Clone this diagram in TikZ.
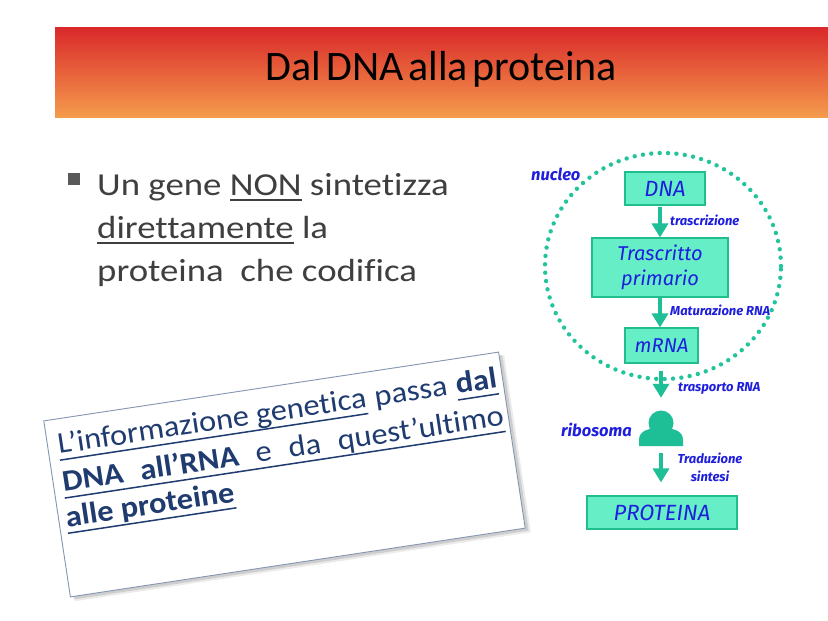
\documentclass[tikz,border=0pt]{standalone}
\usepackage{fontspec}
\setmainfont[Ligatures=NoCommon]{Carlito}
\newfontfamily\titlefont[WordSpace=0.5,Ligatures=NoCommon]{Carlito}
\newfontfamily\bulletfont[FakeStretch=1.15,Ligatures=NoCommon]{Carlito}
\newfontfamily\boxfont[FakeStretch=1.08,Ligatures=NoCommon]{Carlito}
\newfontfamily\diagfont{Fira Sans}
\usetikzlibrary{arrows.meta}
\newdimen\myuldp \myuldp=4pt
\newdimen\myulth \myulth=1.6pt
\newcommand{\myul}[1]{\leavevmode\setbox0=\hbox{#1}\rlap{\vrule height -\myuldp depth \dimexpr\myuldp+\myulth\relax width \wd0\relax}\box0\relax}
\newcommand{\ulsp}{\leaders\vrule height -\myuldp depth \dimexpr\myuldp+\myulth\relax\hskip 0.23em plus 1fill\relax}
\newcommand{\plsp}{\hskip 0.23em plus 1fill\relax}
\definecolor{bannertop}{HTML}{D9282A}
\definecolor{bannermid}{HTML}{E9683A}
\definecolor{bannerbot}{HTML}{F59B4C}
\definecolor{bullettext}{HTML}{3F3F3F}
\definecolor{bulletsq}{HTML}{595959}
\definecolor{navy}{HTML}{1F3B70}
\definecolor{boxedge}{HTML}{8496B0}
\definecolor{boxfill}{HTML}{66EEC6}
\definecolor{boxborder}{HTML}{20BE8E}
\definecolor{arrcol}{HTML}{1EBE96}
\definecolor{dotcol}{HTML}{22C49C}
\definecolor{dblue}{HTML}{1E1EDC}
\tikzset{
  dbox/.style={draw=boxborder, fill=boxfill, line width=1.2pt, text=dblue, inner sep=0pt,
    font=\diagfont\itshape\fontsize{20}{25}\selectfont},
  capsbox/.style={dbox, font=\diagfont\itshape\fontsize{22}{25}\selectfont},
  arr/.style={draw=arrcol, line width=4pt, -{Triangle[width=16pt,length=14pt]}},
  lab/.style={text=dblue, inner sep=0pt, font=\diagfont\bfseries\itshape\fontsize{13}{18}\selectfont},
  biglab/.style={text=dblue, inner sep=0pt, font=\diagfont\bfseries\itshape\fontsize{16.5}{18}\selectfont},
  bline/.style={anchor=base west, inner sep=0pt, text=bullettext, font=\bulletfont\fontsize{32}{37}\selectfont},
  tline/.style={anchor=base west, inner sep=0pt, text=navy, transform shape, font=\boxfont\fontsize{30}{34}\selectfont}
}
\begin{document}
\begin{tikzpicture}[x=1pt,y=-1pt]
\useasboundingbox (0,0) rectangle (828,621);
\fill[white] (0,0) rectangle (828,621);
% banner
\shade[top color=bannertop, middle color=bannermid, bottom color=bannerbot] (55,27) rectangle (828,117);
\node[anchor=base, inner sep=0pt, font=\titlefont\fontsize{42}{48}\selectfont] (title) at (441.5,80) {Dal DNA alla proteina};
% bullet
\node[fill=bulletsq, minimum size=12pt, inner sep=0pt] (bul) at (74,179) {};
\node[bline] (b1) at (97,195) {Un gene \myul{NON} sintetizza};
\node[bline] (b2) at (97,238) {\myul{direttamente} la};
\node[bline] (b3) at (97,281) {proteina\ \ che codifica};
% rotated box
\begin{scope}[shift={(284.5,474.5)}, rotate=8.6]
  \fill[black, opacity=0.08] (-226,-85) rectangle (235,94);
  \fill[black, opacity=0.12] (-227,-86) rectangle (233,92);
  \draw[boxedge, fill=white, line width=0.9pt] (-230,-89) rectangle (230,89);
  \node[tline] (t1) at (-220,-54) {\myuldp=5.5pt\myulth=1.5pt\hbox to 444pt{\myul{L’informazione genetica}\plsp passa\plsp\myul{\textbf{dal}}}};
  \node[tline] (t2) at (-221,-15.8) {\myuldp=5.5pt\myulth=1.5pt\hbox to 446pt{\myul{\textbf{DNA}}\ulsp\myul{\textbf{all’RNA}}\ulsp\myul{e}\ulsp\myul{da}\ulsp\myul{quest’ultimo}}};
  \node[tline] (t3) at (-223,19.5) {\myuldp=5.5pt\myulth=1.5pt\myul{\textbf{alle proteine}}};
\end{scope}
% diagram
\draw[dotcol, line width=4.4pt, line cap=round, dash pattern=on 0pt off 8.4pt] (663,266) ellipse [x radius=118pt, y radius=113pt];
\node[capsbox, minimum width=80pt, minimum height=33pt] (dna) at (665,188.5) {DNA};
\node[dbox, minimum width=136pt, minimum height=59pt, align=center] (tras) at (660,267.5) {Trascritto\\primario};
\node[dbox, minimum width=73pt, minimum height=35pt] (mrna) at (661.5,345.5) {mRNA};
\node[capsbox, minimum width=150pt, minimum height=33pt] (prot) at (662,512.5) {PROTEINA};
\node[circle, fill=arrcol, minimum size=25pt, inner sep=0pt] (ribo) at (661,423) {};
\fill[arrcol] (639,446) -- (639,440) .. controls (639,430) and (650,428) .. (661,428) .. controls (672,428) and (683,430) .. (683,440) -- (683,446) -- cycle;
\draw[arr, shorten <=1.5pt] (dna.south -| tras.north) -- (tras.north);
\draw[arr] (tras.south) -- (tras.south |- mrna.north);
\draw[arr, shorten <=7pt, shorten >=12.5pt] (mrna.south -| ribo.north) -- (ribo.north);
\draw[arr, shorten <=17.5pt, shorten >=13pt] (ribo.south) -- (ribo.south |- prot.north);
\node[biglab, anchor=west] (nucleo) at (531,174) {nucleo};
\node[biglab, anchor=west] (ribosoma) at (561,430) {ribosoma};
\node[lab, anchor=west] (ltr) at (670,220) {trascrizione};
\node[lab, anchor=west] (lmat) at (670,310) {Maturazione RNA};
\node[lab, anchor=west] (ltsp) at (678,388) {trasporto RNA};
\node[lab, align=center] (ltrad) at (710,467) {Traduzione\\sintesi};
\end{tikzpicture}
\end{document}
